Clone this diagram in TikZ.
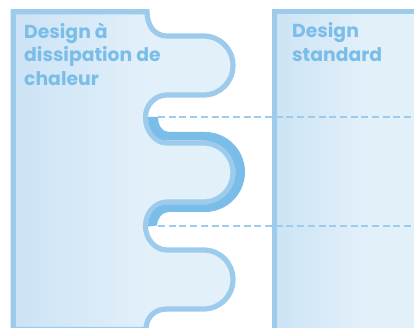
\documentclass[tikz,border=0pt]{standalone}
\usepackage{fontspec}
\setmainfont{Poppins}
\usepackage{xcolor}
\definecolor{panelleft}{RGB}{204, 227, 245}
\definecolor{panelright}{RGB}{226, 240, 250}
\definecolor{edgeblue}{RGB}{156, 203, 236}
\definecolor{heatblue}{RGB}{122, 189, 232}
\pgfdeclarehorizontalshading{panelfade}{100bp}{color(0bp)=(panelleft); color(25bp)=(panelleft); color(56bp)=(panelright); color(100bp)=(panelright)}
\tikzset{
  panel/.style={draw=edgeblue, line width=5.2pt, shading=panelfade, line join=miter},
  title/.style={anchor=north west, align=left, text=heatblue, font=\bfseries\fontsize{18.8}{23.6}\selectfont, inner sep=0pt},
  levelline/.style={draw=edgeblue, line width=2.7pt, dash pattern=on 7pt off 3.7pt}
}
\begin{document}
\begin{tikzpicture}[x=1pt,y=-1pt]
    \useasboundingbox (0,0) rectangle (414,328);

    % Standard panel
    \path[panel] (274.5,331) -- (274.5,11.7) -- (420,11.7) -- (420,331) -- cycle;

    % Fin panel
    \path[panel] (13.2,329.5) -- (13.2,11.7) -- (147,11.7)
        .. controls (147,26) and (155,36) .. (167,36) -- (203.5,36)
        .. controls (220,36) and (233,49) .. (233,65.5)
        .. controls (233,82) and (220,95) .. (203.5,95) -- (167,95)
        .. controls (155,95) and (145.5,105) .. (145.5,117)
        .. controls (145.5,131) and (155,143) .. (167,143) -- (203.5,143)
        .. controls (220,143) and (233,156) .. (233,172.5)
        .. controls (233,189) and (220,202) .. (203.5,202) -- (167,202)
        .. controls (155,202) and (145.5,213) .. (145.5,226)
        .. controls (145.5,239) and (155,250) .. (167,250) -- (203.5,250)
        .. controls (220,250) and (233,263) .. (233,279.5)
        .. controls (233,296) and (220,309) .. (203.5,309) -- (167,309)
        .. controls (155,309) and (146,317) .. (146,329.5) -- cycle;

    % Heated part of the fin
    \fill[heatblue] (148,117) -- (158,117)
        .. controls (158,125) and (162,132) .. (169,132) -- (205,132)
        .. controls (227,132) and (245,150) .. (245,172)
        .. controls (245,194) and (227,212) .. (205,212) -- (169,212)
        .. controls (162,212) and (157.5,218) .. (157,225.5) -- (148,226.5)
        .. controls (148,214) and (156,204.5) .. (167,204.5) -- (203.5,204.5)
        .. controls (221,204.5) and (235.5,190) .. (235.5,172.5)
        .. controls (235.5,155) and (221,140.5) .. (203.5,140.5) -- (167,140.5)
        .. controls (156,140.5) and (148,130) .. (148,117) -- cycle;

    % Levels
    \coordinate (levelA) at (158,117);
    \coordinate (levelB) at (158,226);
    \coordinate (endA) at (414,117);
    \coordinate (endB) at (414,226);
    \draw[levelline] (levelA) -- (endA);
    \draw[levelline] (levelB) -- (endB);

    % Titles
    \node[title] (finlabel) at (24,22.5) {Design à\\dissipation de\\chaleur};
    \node[title] (stdlabel) at (292,22.5) {Design\\standard};
\end{tikzpicture}
\end{document}
